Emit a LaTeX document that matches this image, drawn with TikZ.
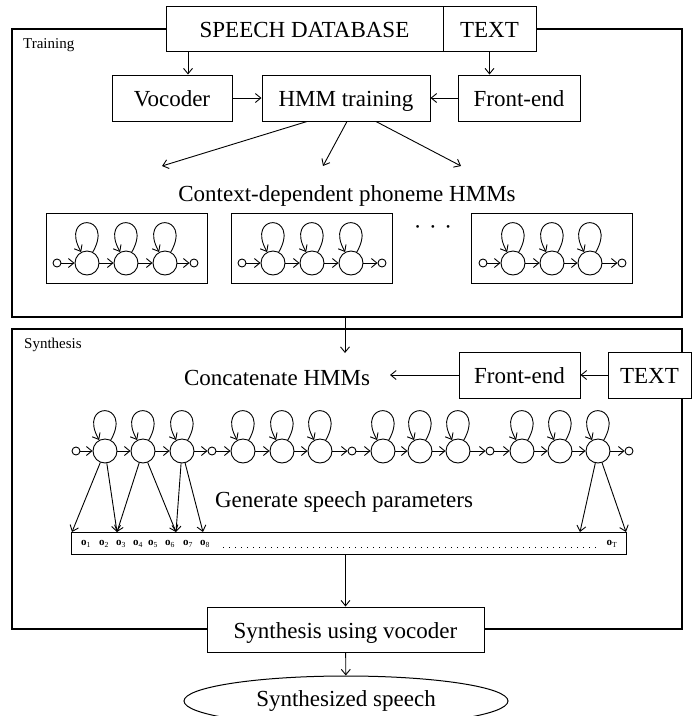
\documentclass[tikz,border=0pt]{standalone}
\usepackage{fontspec}
\setmainfont{Liberation Serif}
\usetikzlibrary{arrows.meta,shapes.geometric,calc}
\newcommand\mkchain[7]{%
  \node[small] (#1-s) at (#2,#7) {};
  \node[big] (#1-1) at (#3,#7) {};
  \node[big] (#1-2) at (#4,#7) {};
  \node[big] (#1-3) at (#5,#7) {};
  \node[small] (#1-e) at (#6,#7) {};
  \draw[arr] (#1-s) -- (#1-1);
  \draw[arr] (#1-1) -- (#1-2);
  \draw[arr] (#1-2) -- (#1-3);
  \draw[arr] (#1-3) -- (#1-e);
  \foreach \k in {1,2,3} \draw[arr] (#1-\k.62) .. controls +(22,-39) and +(-22,-39) .. (#1-\k.118);
}
\begin{document}
\begin{tikzpicture}[x=1pt,y=-1pt,
  arr/.style={-{Straight Barb[length=5.5pt,width=9pt]}, line width=0.9pt},
  box/.style={draw, line width=1pt, fill=white, inner sep=0pt, text height=17.4pt, text depth=0pt, font=\fontsize{23}{27}\selectfont},
  frame/.style={draw, line width=1.3pt, inner sep=0pt},
  lab/.style={font=\fontsize{15}{18}\selectfont, anchor=base west, inner sep=0pt},
  big/.style={circle, draw, line width=0.9pt, minimum size=24pt, inner sep=0pt},
  small/.style={circle, draw, line width=0.9pt, minimum size=8pt, inner sep=0pt},
  bigtext/.style={font=\fontsize{23}{27}\selectfont, inner sep=0pt, anchor=base},
  obs/.style={font=\fontsize{11}{13}\selectfont, inner sep=0pt},
  hbox/.style={draw, line width=1pt, minimum width=161pt, minimum height=70pt, inner sep=0pt}
]
\clip (0,0) rectangle (693,716);
\useasboundingbox (0,0) rectangle (693,716);

% frames
\node[frame, minimum width=670pt, minimum height=288pt] (train) at (347,173) {};
\node[frame, minimum width=670pt, minimum height=300pt] (synth) at (347,479) {};
\node[lab] (trl) at (23,48) {Training};
\node[lab] (syl) at (24,348) {Synthesis};

% training part
\node[box, minimum width=277pt, minimum height=45pt] (sd) at (304.5,28.5) {SPEECH DATABASE};
\node[box, minimum width=93pt, minimum height=45pt] (tx) at (489.5,28.5) {TEXT};
\node[box, minimum width=120pt, minimum height=46pt] (voc) at (172,98) {Vocoder};
\node[box, minimum width=168pt, minimum height=46pt] (hmm) at (346,98) {HMM training};
\node[box, minimum width=122pt, minimum height=46pt] (fe) at (519,98) {Front-end};
\coordinate (t1) at (188,0);
\draw[arr] (sd.south -| t1) -- (voc.north -| t1);
\draw[arr] (tx.south) -- (tx.south |- fe.north);
\draw[arr] (voc) -- (hmm);
\draw[arr] (fe) -- (hmm);
\coordinate (c1) at (162,166);
\coordinate (c2) at (323,166);
\coordinate (c3) at (461,166);
\draw[arr] ([xshift=-39pt]hmm.south) -- (c1);
\draw[arr] ([xshift=1pt]hmm.south) -- (c2);
\draw[arr] ([xshift=30pt]hmm.south) -- (c3);
\node[bigtext] (ctx) at (347,201) {Context-dependent phoneme HMMs};

\node[hbox] (h1) at (126.5,248) {};
\node[hbox] (h2) at (311.5,248) {};
\node[hbox] (h3) at (551.5,248) {};
\node[font=\fontsize{23}{27}\selectfont, inner sep=0pt] (dots) at (433,230) {·\,\,·\,\,·};
\mkchain{A}{57}{87}{126}{165}{194}{263}
\mkchain{B}{242}{273}{312}{351}{382}{263}
\mkchain{C}{483}{513}{552}{590}{622}{263}

% synthesis part
\node[box, minimum width=121pt, minimum height=46pt] (fe2) at (519.5,375) {Front-end};
\node[box, minimum width=83pt, minimum height=46pt] (tx2) at (649.5,375) {TEXT};
\node[bigtext] (cat) at (277,385) {Concatenate HMMs};
\coordinate (catin) at (390,375);
\coordinate (catt) at (345,353);
\draw[arr] (tx2) -- (fe2);
\draw[arr] (fe2.west) -- (catin);
\draw[arr] (train.south -| catt) -- (catt);

\foreach \n/\x/\t in {0/76/small,1/105/big,2/143/big,3/182/big,4/212/small,5/243/big,6/282/big,7/320/big,8/352/small,9/383/big,10/420/big,11/458/big,12/490/small,13/522/big,14/560/big,15/598/big,16/629/small}
  \node[\t] (q\n) at (\x,451) {};
\foreach \a/\b in {0/1,1/2,2/3,3/4,4/5,5/6,6/7,7/8,8/9,9/10,10/11,11/12,12/13,13/14,14/15,15/16}
  \draw[arr] (q\a) -- (q\b);
\foreach \k in {1,2,3,5,6,7,9,10,11,13,14,15}
  \draw[arr] (q\k.62) .. controls +(22,-39) and +(-22,-39) .. (q\k.118);

\node[bigtext] (gen) at (344,507) {Generate speech parameters};
\node[draw, line width=1pt, minimum width=555pt, minimum height=22pt, inner sep=0pt] (bar) at (348.5,543) {};
\foreach \i/\x in {1/86,2/104,3/121,4/138,5/153,6/170,7/188,8/205}
  \node[obs] (o\i) at (\x,544) {\textbf{o}\textsubscript{\i}};
\node[obs] (oT) at (612,544) {\textbf{o}\textsubscript{T}};
\draw[line width=0.8pt, dash pattern=on 0.8pt off 5.2pt] (223,547) -- (596,547);

\coordinate (p1) at (72,532);
\coordinate (p3) at (117,532);
\coordinate (p6) at (176,532);
\coordinate (p8) at (203,532);
\coordinate (pa) at (580,532);
\coordinate (pb) at (626,532);
\draw[arr] (q1) -- (p1);
\draw[arr] (q1) -- (p3);
\draw[arr] (q2) -- (p3);
\draw[arr] (q2) -- (p6);
\draw[arr] (q3) -- (p6);
\draw[arr] (q3) -- (p8);
\draw[arr] (q15) -- (pa);
\draw[arr] (q15) -- (pb);

\node[box, minimum width=277pt, minimum height=45pt] (syv) at (345.5,629.5) {Synthesis using vocoder};
\draw[arr] (bar.south -| syv.north) -- (syv.north);
\node[ellipse, draw, line width=1pt, minimum width=324pt, minimum height=50pt, inner sep=0pt, font=\fontsize{23}{27}\selectfont] (ss) at (346,701) {Synthesized speech};
\draw[arr] (syv) -- (ss);
\end{tikzpicture}
\end{document}
